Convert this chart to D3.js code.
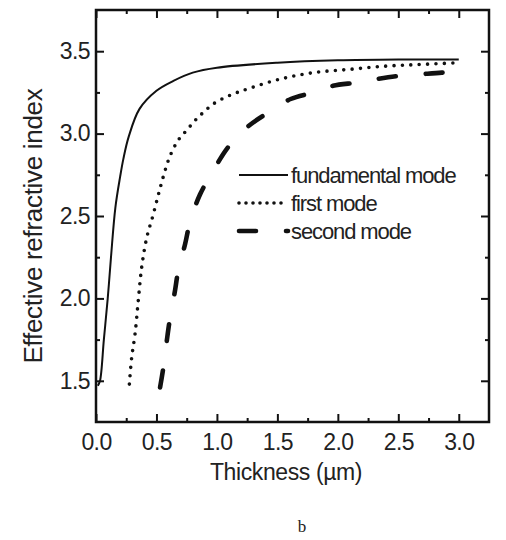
<!DOCTYPE html>
<html>
<head>
<meta charset="utf-8">
<script src="https://cdn.jsdelivr.net/npm/d3@7"></script>
<style>
  html, body { margin: 0; padding: 0; background: #fff; }
  svg { display: block; }
  text { font-family: "Liberation Sans", Arial, sans-serif; fill: #222; }
</style>
</head>
<body>
<svg id="chart" width="506" height="540"></svg>
<script>
// ---- Data ----
const fundamentalT = [0.015, 0.033, 0.065, 0.097, 0.124, 0.16, 0.2, 0.226, 0.27, 0.36, 0.5, 0.64, 0.8, 1.0, 1.5, 2.0, 2.5, 3.0];
const fundamentalN = [1.47, 1.50, 1.75, 2.00, 2.25, 2.55, 2.74, 2.845, 2.98, 3.15, 3.26, 3.32, 3.37, 3.40, 3.43, 3.445, 3.45, 3.45];

const firstT = [0.276, 0.295, 0.323, 0.35, 0.378, 0.42, 0.47, 0.516, 0.557, 0.61, 0.68, 0.75, 0.82, 0.89, 0.97, 1.1, 1.25, 1.52, 1.8, 2.1, 2.41, 2.7, 3.0];
const firstN = [1.48, 1.64, 1.785, 1.99, 2.19, 2.37, 2.50, 2.63, 2.74, 2.86, 2.96, 3.02, 3.08, 3.13, 3.18, 3.23, 3.27, 3.33, 3.37, 3.39, 3.41, 3.42, 3.43];

const secondT = [0.53, 0.557, 0.585, 0.61, 0.654, 0.68, 0.737, 0.778, 0.86, 0.958, 1.095, 1.26, 1.44, 1.61, 1.8, 1.96, 2.16, 2.31, 2.5, 2.68, 2.86, 3.0];
const secondN = [1.46, 1.58, 1.74, 1.87, 2.05, 2.17, 2.33, 2.465, 2.63, 2.76, 2.92, 3.045, 3.135, 3.21, 3.25, 3.29, 3.31, 3.33, 3.35, 3.36, 3.37, 3.375];

const seriesNames = ["fundamental mode", "first mode", "second mode"];
const xMajorTicks = [0, 0.5, 1.0, 1.5, 2.0, 2.5, 3.0];
const xMinorTicks = [0.25, 0.75, 1.25, 1.75, 2.25, 2.75];
const yMajorTicks = [1.5, 2.0, 2.5, 3.0, 3.5];
const yMinorTicks = [1.75, 2.25, 2.75, 3.25];
const xTitle = "Thickness (\u00b5m)";
const yTitle = "Effective refractive index";
const caption = "b";

// ---- Layout ----
const svg = d3.select("#chart");
const plotL = 96, plotR = 489, plotT = 10, plotB = 422;
const x = d3.scaleLinear().domain([0, 3.25]).range([plotL, plotR]);
const y = d3.scaleLinear().domain([1.25, 3.75]).range([plotB, plotT]);

const styles = [
  { width: 2, dash: null, cap: "butt" },
  { width: 3.6, dash: "0,8.4", cap: "round" },
  { width: 4.6, dash: "17,30", cap: "round" }
];

const series = [
  d3.zip(fundamentalT, fundamentalN),
  d3.zip(firstT, firstN),
  d3.zip(secondT, secondN)
];

const line = d3.line().x(d => x(d[0])).y(d => y(d[1])).curve(d3.curveCatmullRom.alpha(0.5));

svg.append("clipPath").attr("id", "clip")
  .append("rect").attr("x", plotL).attr("y", plotT).attr("width", plotR - plotL).attr("height", plotB - plotT);

series.forEach((s, i) => {
  svg.append("path")
    .datum(s)
    .attr("clip-path", "url(#clip)")
    .attr("d", line)
    .attr("fill", "none")
    .attr("stroke", "#111")
    .attr("stroke-width", styles[i].width)
    .attr("stroke-dasharray", styles[i].dash)
    .attr("stroke-linecap", styles[i].cap)
    .attr("stroke-linejoin", "round");
});

// ---- Axes (inward ticks on all four sides) ----
const tickFont = 23;
function styleAxis(g) {
  g.select(".domain").remove();
  g.selectAll(".tick line").attr("stroke", "#111").attr("stroke-width", 2);
  g.selectAll(".tick text")
    .style("font-size", tickFont + "px")
    .style("letter-spacing", "-0.6px")
    .attr("fill", "#2a2a2a");
}

// bottom
svg.append("g").attr("transform", `translate(0,${plotB})`)
  .call(d3.axisBottom(x).tickValues(xMajorTicks).tickSizeInner(-8).tickSizeOuter(0).tickPadding(12).tickFormat(d3.format(".1f")))
  .call(styleAxis);
svg.append("g").attr("transform", `translate(0,${plotB})`)
  .call(d3.axisBottom(x).tickValues(xMinorTicks).tickSizeInner(-4).tickSizeOuter(0).tickFormat(""))
  .call(styleAxis);
// top
svg.append("g").attr("transform", `translate(0,${plotT})`)
  .call(d3.axisTop(x).tickValues(xMajorTicks).tickSizeInner(-8).tickSizeOuter(0).tickFormat(""))
  .call(styleAxis);
svg.append("g").attr("transform", `translate(0,${plotT})`)
  .call(d3.axisTop(x).tickValues(xMinorTicks).tickSizeInner(-4).tickSizeOuter(0).tickFormat(""))
  .call(styleAxis);
// left
svg.append("g").attr("transform", `translate(${plotL},0)`)
  .call(d3.axisLeft(y).tickValues(yMajorTicks).tickSizeInner(-8).tickSizeOuter(0).tickPadding(6).tickFormat(d3.format(".1f")))
  .call(styleAxis);
svg.append("g").attr("transform", `translate(${plotL},0)`)
  .call(d3.axisLeft(y).tickValues(yMinorTicks).tickSizeInner(-4).tickSizeOuter(0).tickFormat(""))
  .call(styleAxis);
// right
svg.append("g").attr("transform", `translate(${plotR},0)`)
  .call(d3.axisRight(y).tickValues(yMajorTicks).tickSizeInner(-8).tickSizeOuter(0).tickFormat(""))
  .call(styleAxis);
svg.append("g").attr("transform", `translate(${plotR},0)`)
  .call(d3.axisRight(y).tickValues(yMinorTicks).tickSizeInner(-4).tickSizeOuter(0).tickFormat(""))
  .call(styleAxis);

// frame
svg.append("rect")
  .attr("x", plotL).attr("y", plotT).attr("width", plotR - plotL).attr("height", plotB - plotT)
  .attr("fill", "none").attr("stroke", "#111").attr("stroke-width", 2.5);

// ---- Legend ----
const legX0 = 239, legX1 = 288, legTextX = 291;
const legY = [175, 203, 231];
seriesNames.forEach((name, i) => {
  svg.append("line")
    .attr("x1", legX0).attr("x2", legX1)
    .attr("y1", legY[i]).attr("y2", legY[i])
    .attr("stroke", "#111")
    .attr("stroke-width", styles[i].width)
    .attr("stroke-dasharray", i === 1 ? "0,7" : styles[i].dash)
    .attr("stroke-linecap", styles[i].cap);
  svg.append("text")
    .attr("x", legTextX).attr("y", legY[i] + 8)
    .style("font-size", "22px")
    .style("letter-spacing", "-1.1px")
    .text(name);
});

// ---- Titles ----
svg.append("text")
  .attr("x", 286).attr("y", 480)
  .attr("text-anchor", "middle")
  .style("font-size", "23px")
  .style("letter-spacing", "-0.4px")
  .text(xTitle);

svg.append("text")
  .attr("transform", "translate(42,226) rotate(-90)")
  .attr("text-anchor", "middle")
  .style("font-size", "26px")
  .style("letter-spacing", "-0.3px")
  .text(yTitle);

svg.append("text")
  .attr("x", 302).attr("y", 532)
  .attr("text-anchor", "middle")
  .style("font-family", "'Liberation Serif', serif")
  .style("font-size", "17px")
  .text(caption);
</script>
</body>
</html>
